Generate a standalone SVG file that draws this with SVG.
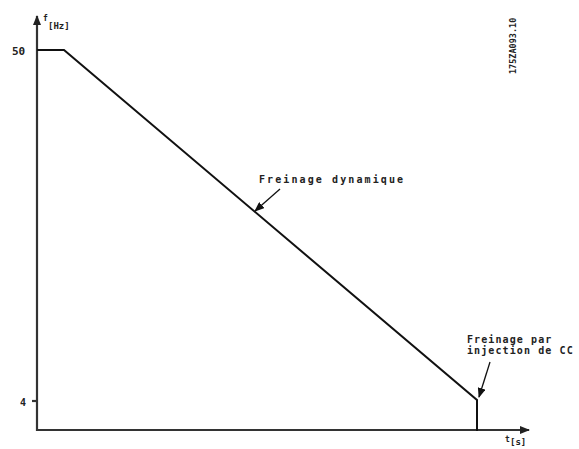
<svg xmlns="http://www.w3.org/2000/svg" width="579" height="449" viewBox="0 0 579 449">
<style>
.ax{stroke:#333;stroke-width:2.2;fill:none}
.cv{stroke:#111;stroke-width:2;fill:none}
.lead{stroke:#111;stroke-width:1.3;fill:none}
.t{font-family:"DejaVu Sans Mono",monospace;font-weight:bold;fill:#222}
.lbl{font-size:10px;letter-spacing:2.1px}
.lbl2{font-size:10px;letter-spacing:1.1px}
</style>
<defs>
<marker id="ah" markerWidth="10" markerHeight="8" refX="9" refY="4" orient="auto" markerUnits="userSpaceOnUse">
<path d="M0,0 L10,4 L0,8 Z" fill="#222"/>
</marker>
<marker id="lh" markerWidth="10" markerHeight="8" refX="9" refY="4" orient="auto" markerUnits="userSpaceOnUse">
<path d="M0,0 L10,4 L0,8 Z" fill="#111"/>
</marker>
</defs>
<g id="axes">
<line class="ax" x1="37" y1="431" x2="37" y2="16" marker-end="url(#ah)"/>
<line class="ax" x1="36" y1="430" x2="529" y2="430" marker-end="url(#ah)"/>
<line class="ax" x1="32" y1="401" x2="37" y2="401"/>
<text class="t" x="43" y="21" font-size="8">f</text>
<text class="t" x="48" y="29" font-size="9">[Hz]</text>
<text class="t" x="505" y="442" font-size="8">t</text>
<text class="t" x="510" y="445" font-size="9">[s]</text>
<text class="t" x="12" y="55" font-size="11">50</text>
<text class="t" x="20" y="406" font-size="10">4</text>
<text class="t" x="0" y="0" font-size="8.5" transform="translate(516,74) rotate(-90)">175ZA093.10</text>
</g>
<g id="curve">
<polyline class="cv" points="37,50 64,50 477,400 477,431"/>
</g>
<g id="connectors">
<line class="lead" x1="280" y1="189" x2="255" y2="211" marker-end="url(#lh)"/>
<line class="lead" x1="490" y1="362" x2="479" y2="397" marker-end="url(#lh)"/>
</g>
<g id="label-dyn">
<text class="t lbl" x="259" y="183">Freinage dynamique</text>
</g>
<g id="label-cc">
<text class="t lbl2" x="467" y="343">Freinage par</text>
<text class="t lbl2" x="467" y="354">injection de CC</text>
</g>
</svg>
